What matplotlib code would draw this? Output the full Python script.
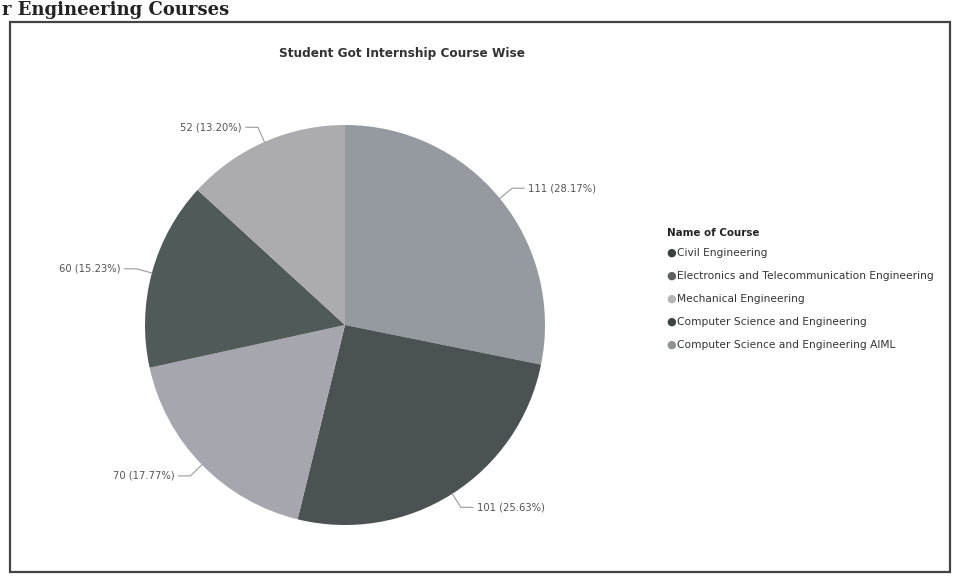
import numpy as np
import matplotlib
matplotlib.use("Agg")
import matplotlib.pyplot as plt
from matplotlib.patches import Rectangle

# === Data ===
courses = ['Electronics and Telecommunication Engineering', 'Civil Engineering',
           'Mechanical Engineering', 'Computer Science and Engineering',
           'Computer Science and Engineering AIML']
counts = [111, 101, 70, 60, 52]
slice_colors = ['#959aa1', '#4b5253', '#a6a6ae', '#505a59', '#ababb0']

legend_order = ['Civil Engineering', 'Electronics and Telecommunication Engineering',
                'Mechanical Engineering', 'Computer Science and Engineering',
                'Computer Science and Engineering AIML']
legend_colors = ['#3a3f40', '#5d6164', '#b5b5ba', '#3f4546', '#8f9196']

W, H = 957, 578
fig = plt.figure(figsize=(W / 100, H / 100), dpi=100)
fig.patch.set_facecolor('white')

# page border and the heading above it
fig.patches.append(Rectangle((10 / W, 6 / H), 940 / W, 550 / H, transform=fig.transFigure,
                             fill=False, edgecolor='#444444', linewidth=1.6))
fig.text(2 / W, 1 - 1 / H, 'r Engineering Courses', fontsize=13, fontweight='bold',
         family='DejaVu Serif', color='#222222', va='top', ha='left')

fig.text(402 / W, 1 - 54 / H, 'Student Got Internship Course Wise', fontsize=8.7,
         fontweight='bold', color='#333333', ha='center', va='center')

# === Pie ===
cx, cy, r = 345, 325, 200
ax = fig.add_axes([(cx - 1.05 * r) / W, (H - cy - 1.05 * r) / H, 2.1 * r / W, 2.1 * r / H])
wedges, _ = ax.pie(counts, colors=slice_colors, startangle=90, counterclock=False,
                   radius=1.0, wedgeprops=dict(linewidth=0))
ax.set_xlim(-1.05, 1.05)
ax.set_ylim(-1.05, 1.05)
ax.set_aspect('equal')
ax.axis('off')

total = sum(counts)
for w, n in zip(wedges, counts):
    ang = np.deg2rad((w.theta1 + w.theta2) / 2)
    x, y = np.cos(ang), np.sin(ang)
    side = 1 if x >= 0 else -1
    elbow = (1.08 * x, 1.08 * y)
    ax.plot([x, elbow[0], elbow[0] + side * 0.06], [y, elbow[1], elbow[1]],
            color='#9a9a9a', linewidth=0.8, clip_on=False)
    ax.text(elbow[0] + side * 0.08, elbow[1], f'{n} ({n / total * 100:.2f}%)',
            fontsize=7.2, color='#555555', ha='left' if side > 0 else 'right', va='center')

# === Legend ===
lx, ly = 667, 233
fig.text(lx / W, 1 - ly / H, 'Name of Course', fontsize=7.4, fontweight='bold',
         color='#222222', va='center')
for i, (name, c) in enumerate(zip(legend_order, legend_colors)):
    yy = 1 - (ly + 20 + i * 23) / H
    fig.text((lx - 1) / W, yy, '\u25cf', fontsize=8, color=c, va='center')
    fig.text((lx + 10) / W, yy, name, fontsize=7.7, color='#333333', va='center')

fig.savefig('out.png', dpi=100)
